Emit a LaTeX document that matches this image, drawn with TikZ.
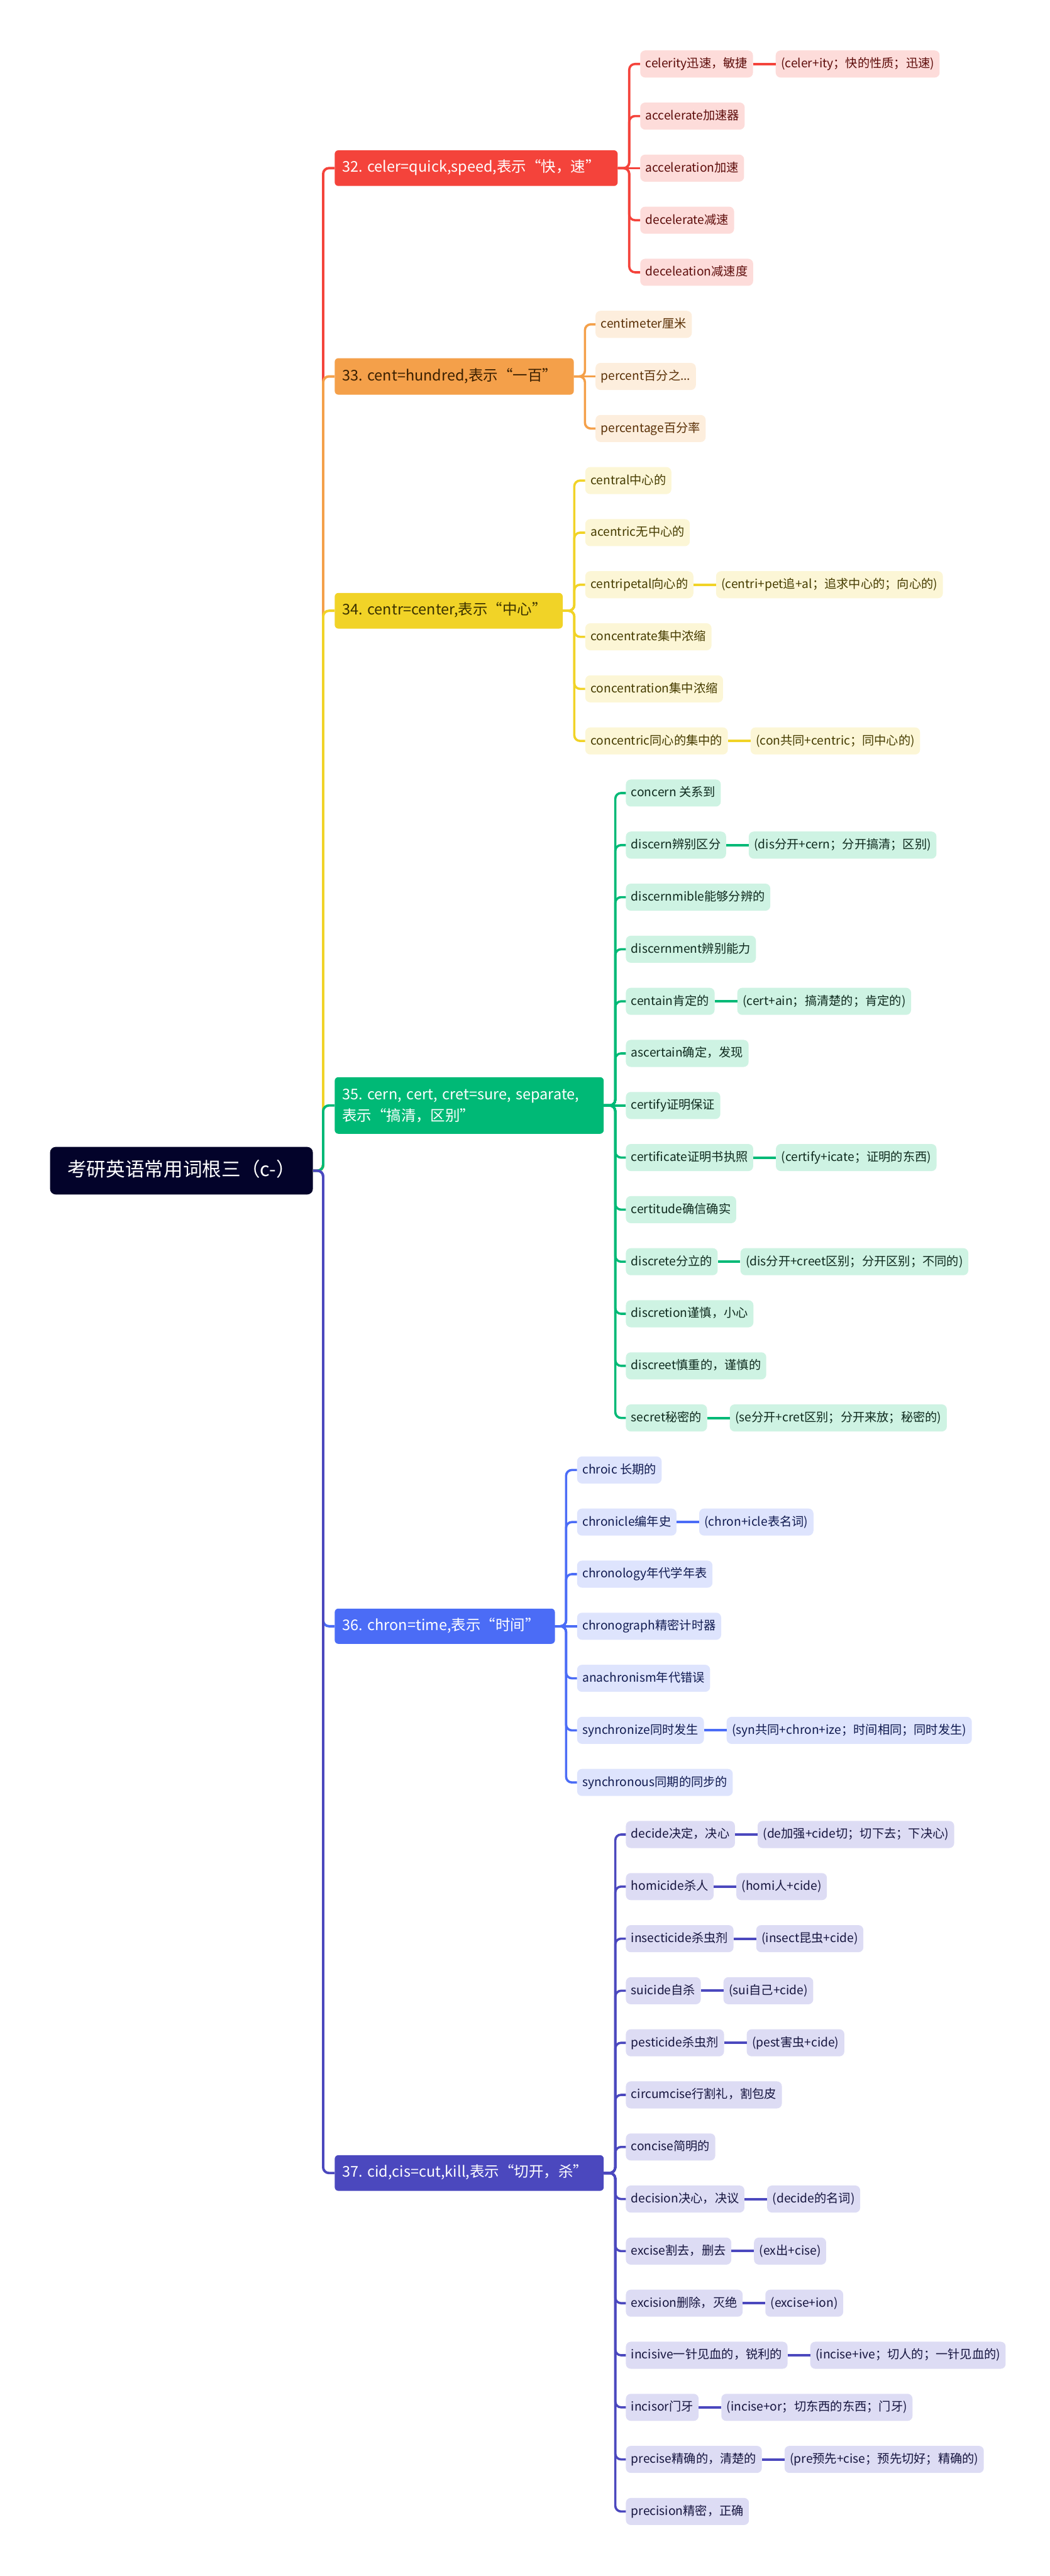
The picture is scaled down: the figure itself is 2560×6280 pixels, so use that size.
\documentclass[tikz,border=0pt]{standalone}
\usepackage{fontspec}
\setmainfont{Noto Sans CJK SC}
\frenchspacing
\usetikzlibrary{calc}
\definecolor{Rm}{HTML}{F4433B}\definecolor{Rf}{HTML}{FDDCDA}\definecolor{Rt}{HTML}{5E0D0B}
\definecolor{Om}{HTML}{F4A04A}\definecolor{Of}{HTML}{FDEEDD}\definecolor{Ot}{HTML}{5A3006}
\definecolor{Ym}{HTML}{F1D327}\definecolor{Yf}{HTML}{FCF6D6}\definecolor{Yt}{HTML}{463C00}
\definecolor{Gm}{HTML}{00B976}\definecolor{Gf}{HTML}{CEF3E3}\definecolor{Gt}{HTML}{0F2A1E}
\definecolor{Bm}{HTML}{4B6CF6}\definecolor{Bf}{HTML}{DEE4FD}\definecolor{Bt}{HTML}{101A50}
\definecolor{Im}{HTML}{4B48BE}\definecolor{If}{HTML}{DDDCF4}\definecolor{It}{HTML}{16153F}
\definecolor{rootc}{HTML}{03032A}
\definecolor{Obt}{HTML}{3A1F00}\definecolor{Ybt}{HTML}{3A3100}
\tikzset{
  leaf/.style={rectangle, rounded corners=12pt, anchor=west, fill=#1f, text=#1t,
    minimum height=66pt, inner xsep=13pt, inner ysep=0pt, text height=23pt, text depth=5pt,
    font=\fontsize{29.5}{35}\selectfont},
  branch/.style={rectangle, rounded corners=9pt, anchor=west, fill=#1m, inner xsep=18pt,
    inner ysep=0pt, align=left, font=\fontsize{36}{52}\selectfont},
  conn/.style={draw=#1m, line width=5.5pt, rounded corners=14pt},
  cconn/.style={draw=#1m, line width=6pt},
  rootbox/.style={rectangle, rounded corners=14pt, fill=rootc, text=white, minimum width=641pt,
    minimum height=116pt, inner sep=0pt, font=\fontsize{47}{56}\selectfont, text height=36pt, text depth=8pt}
}
\begin{document}
\begin{tikzpicture}[x=1pt,y=-1pt]
\useasboundingbox (0,0) rectangle (2560,6280);
% root
\node[rootbox] (root) at (442.5,2854) {考研英语常用词根三（c-）};
% branches
\node[branch=R, text=white, text width=654pt, minimum height=87pt, text height=27pt, text depth=7pt] (b32) at (816,409.9) {\mbox{32. celer=quick,speed,表示“快，速”}};
\node[branch=O, text=Obt, text width=547pt, minimum height=89pt, text height=27pt, text depth=7pt] (b33) at (816,917.7) {\mbox{33. cent=hundred,表示“一百”}};
\node[branch=Y, text=Ybt, text width=520pt, minimum height=87pt, text height=27pt, text depth=7pt] (b34) at (816,1489) {\mbox{34. centr=center,表示“中心”}};
\node[branch=G, text=white, text width=620pt, minimum height=138pt] (b35) at (816,2695) {\mbox{35. cern, cert, cret=sure, separate,}\\\mbox{表示“搞清，区别”}};
\node[branch=B, text=white, text width=501pt, minimum height=86pt, text height=27pt, text depth=7pt] (b36) at (816,3964.5) {\mbox{36. chron=time,表示“时间”}};
\node[branch=I, text=white, text width=620pt, minimum height=87pt, text height=27pt, text depth=7pt] (b37) at (816,5297.5) {\mbox{37. cid,cis=cut,kill,表示“切开，杀”}};
% 32
\node[leaf=R] (l0) at (1561,156) {celerity迅速，敏捷};
\node[leaf=R] (l1) at (1561,282.95) {accelerate加速器};
\node[leaf=R] (l2) at (1561,409.9) {acceleration加速};
\node[leaf=R] (l3) at (1561,536.85) {decelerate减速};
\node[leaf=R] (l4) at (1561,663.8) {deceleation减速度};
\node[leaf=R] (c0) at ([xshift=55pt]l0.east) {(celer+ity；快的性质；迅速)};
% 33
\node[leaf=O] (l5) at (1452,790.75) {centimeter厘米};
\node[leaf=O] (l6) at (1452,917.7) {percent百分之...};
\node[leaf=O] (l7) at (1452,1044.65) {percentage百分率};
% 34
\node[leaf=Y] (l8) at (1427,1171.6) {central中心的};
\node[leaf=Y] (l9) at (1427,1298.55) {acentric无中心的};
\node[leaf=Y] (l10) at (1427,1425.5) {centripetal向心的};
\node[leaf=Y] (l11) at (1427,1552.45) {concentrate集中浓缩};
\node[leaf=Y] (l12) at (1427,1679.4) {concentration集中浓缩};
\node[leaf=Y] (l13) at (1427,1806.35) {concentric同心的集中的};
\node[leaf=Y] (c10) at ([xshift=55pt]l10.east) {(centri+pet追+al；追求中心的；向心的)};
\node[leaf=Y] (c13) at ([xshift=55pt]l13.east) {(con共同+centric；同中心的)};
% 35
\node[leaf=G] (l14) at (1526,1933.3) {concern 关系到};
\node[leaf=G] (l15) at (1526,2060.25) {discern辨别区分};
\node[leaf=G] (l16) at (1526,2187.2) {discernmible能够分辨的};
\node[leaf=G] (l17) at (1526,2314.15) {discernment辨别能力};
\node[leaf=G] (l18) at (1526,2441.1) {centain肯定的};
\node[leaf=G] (l19) at (1526,2568.05) {ascertain确定，发现};
\node[leaf=G] (l20) at (1526,2695) {certify证明保证};
\node[leaf=G] (l21) at (1526,2821.95) {certificate证明书执照};
\node[leaf=G] (l22) at (1526,2948.9) {certitude确信确实};
\node[leaf=G] (l23) at (1526,3075.85) {discrete分立的};
\node[leaf=G] (l24) at (1526,3202.8) {discretion谨慎，小心};
\node[leaf=G] (l25) at (1526,3329.75) {discreet慎重的，谨慎的};
\node[leaf=G] (l26) at (1526,3456.7) {secret秘密的};
\node[leaf=G] (c15) at ([xshift=55pt]l15.east) {(dis分开+cern；分开搞清；区别)};
\node[leaf=G] (c18) at ([xshift=55pt]l18.east) {(cert+ain；搞清楚的；肯定的)};
\node[leaf=G] (c21) at ([xshift=55pt]l21.east) {(certify+icate；证明的东西)};
\node[leaf=G] (c23) at ([xshift=55pt]l23.east) {(dis分开+creet区别；分开区别；不同的)};
\node[leaf=G] (c26) at ([xshift=55pt]l26.east) {(se分开+cret区别；分开来放；秘密的)};
% 36
\node[leaf=B] (l27) at (1407,3583.65) {chroic 长期的};
\node[leaf=B] (l28) at (1407,3710.6) {chronicle编年史};
\node[leaf=B] (l29) at (1407,3837.55) {chronology年代学年表};
\node[leaf=B] (l30) at (1407,3964.5) {chronograph精密计时器};
\node[leaf=B] (l31) at (1407,4091.45) {anachronism年代错误};
\node[leaf=B] (l32) at (1407,4218.4) {synchronize同时发生};
\node[leaf=B] (l33) at (1407,4345.35) {synchronous同期的同步的};
\node[leaf=B] (c28) at ([xshift=55pt]l28.east) {(chron+icle表名词)};
\node[leaf=B] (c32) at ([xshift=55pt]l32.east) {(syn共同+chron+ize；时间相同；同时发生)};
% 37
\node[leaf=I] (l34) at (1526,4472.3) {decide决定，决心};
\node[leaf=I] (l35) at (1526,4599.25) {homicide杀人};
\node[leaf=I] (l36) at (1526,4726.2) {insecticide杀虫剂};
\node[leaf=I] (l37) at (1526,4853.15) {suicide自杀};
\node[leaf=I] (l38) at (1526,4980.1) {pesticide杀虫剂};
\node[leaf=I] (l39) at (1526,5107.05) {circumcise行割礼，割包皮};
\node[leaf=I] (l40) at (1526,5234) {concise简明的};
\node[leaf=I] (l41) at (1526,5360.95) {decision决心，决议};
\node[leaf=I] (l42) at (1526,5487.9) {excise割去，删去};
\node[leaf=I] (l43) at (1526,5614.85) {excision删除，灭绝};
\node[leaf=I] (l44) at (1526,5741.8) {incisive一针见血的，锐利的};
\node[leaf=I] (l45) at (1526,5868.75) {incisor门牙};
\node[leaf=I] (l46) at (1526,5995.7) {precise精确的，清楚的};
\node[leaf=I] (l47) at (1526,6122.65) {precision精密，正确};
\node[leaf=I] (c34) at ([xshift=55pt]l34.east) {(de加强+cide切；切下去；下决心)};
\node[leaf=I] (c35) at ([xshift=55pt]l35.east) {(homi人+cide)};
\node[leaf=I] (c36) at ([xshift=55pt]l36.east) {(insect昆虫+cide)};
\node[leaf=I] (c37) at ([xshift=55pt]l37.east) {(sui自己+cide)};
\node[leaf=I] (c38) at ([xshift=55pt]l38.east) {(pest害虫+cide)};
\node[leaf=I] (c41) at ([xshift=55pt]l41.east) {(decide的名词)};
\node[leaf=I] (c42) at ([xshift=55pt]l42.east) {(ex出+cise)};
\node[leaf=I] (c43) at ([xshift=55pt]l43.east) {(excise+ion)};
\node[leaf=I] (c44) at ([xshift=55pt]l44.east) {(incise+ive；切人的；一针见血的)};
\node[leaf=I] (c45) at ([xshift=55pt]l45.east) {(incise+or；切东西的东西；门牙)};
\node[leaf=I] (c46) at ([xshift=55pt]l46.east) {(pre预先+cise；预先切好；精确的)};
% root connectors
\coordinate (rb) at (788,2854);
\draw[conn=R, line width=6pt] (root.east) -- (rb) |- (b32.west);
\draw[conn=O, line width=6pt] (root.east) -- (rb) |- (b33.west);
\draw[conn=Y, line width=6pt] (root.east) -- (rb) |- (b34.west);
\draw[conn=G, line width=6pt] (root.east) -- (rb) |- (b35.west);
\draw[conn=B, line width=6pt] (root.east) -- (rb) |- (b36.west);
\draw[conn=I, line width=6pt] (root.east) -- (rb) |- (b37.west);
% branch to leaf connectors
\foreach \i in {0,1,3,4} \draw[conn=R] (b32.east) -- ++(28,0) |- (l\i.west);
\draw[conn=R] (b32.east) -- (l2.west);
\foreach \i in {5,7} \draw[conn=O] (b33.east) -- ++(27,0) |- (l\i.west);
\draw[conn=O] (b33.east) -- (l6.west);
\foreach \i in {8,...,13} \draw[conn=Y] (b34.east) -- ++(28,0) |- (l\i.west);
\foreach \i in {14,...,19,21,22,23,24,25,26} \draw[conn=G] (b35.east) -- ++(28,0) |- (l\i.west);
\draw[conn=G] (b35.east) -- (l20.west);
\foreach \i in {27,28,29,31,32,33} \draw[conn=B] (b36.east) -- ++(27,0) |- (l\i.west);
\draw[conn=B] (b36.east) -- (l30.west);
\foreach \i in {34,...,47} \draw[conn=I] (b37.east) -- ++(28,0) |- (l\i.west);
% leaf to child connectors
\draw[cconn=R] (l0.east) -- (c0.west);
\foreach \i in {10,13} \draw[cconn=Y] (l\i.east) -- (c\i.west);
\foreach \i in {15,18,21,23,26} \draw[cconn=G] (l\i.east) -- (c\i.west);
\foreach \i in {28,32} \draw[cconn=B] (l\i.east) -- (c\i.west);
\foreach \i in {34,35,36,37,38,41,42,43,44,45,46} \draw[cconn=I] (l\i.east) -- (c\i.west);
\end{tikzpicture}
\end{document}
